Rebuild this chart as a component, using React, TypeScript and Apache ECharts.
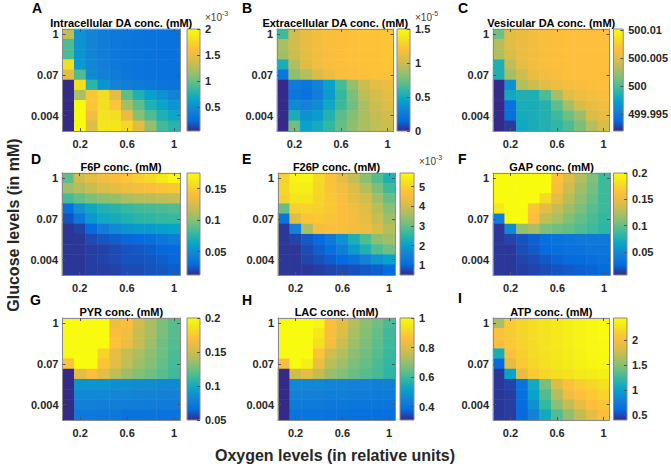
import React, { useEffect, useRef } from "react";
import * as echarts from "echarts";

// Oxygen levels (relative units) – columns, left to right
const oxygenLevels = ["0.1", "0.2", "0.3", "0.4", "0.5", "0.6", "0.7", "0.8", "0.9", "1"];
// Glucose levels (mM) – rows, top to bottom
const glucoseLevels = ["1", "0.5", "0.25", "0.13", "0.07", "0.035", "0.017", "0.008", "0.004", "0.002"];
const xTickLabels = ["0.2", "0.6", "1"];
const yTickLabels = ["1", "0.07", "0.004"];

// A: Intracellular DA (x1e-3 mM)
const intraDA = [
  [1.30, 0.55, 0.45, 0.40, 0.37, 0.35, 0.33, 0.32, 0.31, 0.30],
  [0.92, 0.55, 0.45, 0.40, 0.37, 0.34, 0.33, 0.32, 0.31, 0.30],
  [0.90, 0.55, 0.46, 0.40, 0.37, 0.34, 0.33, 0.31, 0.30, 0.30],
  [1.80, 0.58, 0.47, 0.41, 0.37, 0.34, 0.33, 0.31, 0.30, 0.30],
  [1.45, 0.93, 0.50, 0.43, 0.39, 0.36, 0.33, 0.32, 0.31, 0.30],
  [0.05, 1.80, 0.80, 0.55, 0.46, 0.41, 0.38, 0.35, 0.33, 0.32],
  [0.05, 1.22, 1.67, 1.78, 1.45, 0.97, 0.75, 0.62, 0.53, 0.46],
  [0.05, 2.00, 1.65, 1.80, 1.65, 1.20, 0.97, 0.75, 0.65, 0.56],
  [0.05, 2.00, 1.55, 1.82, 1.80, 1.50, 1.10, 0.92, 0.75, 0.66],
  [0.05, 2.00, 1.42, 1.85, 1.85, 1.75, 1.45, 1.15, 0.88, 0.78],
];
// B: Extracellular DA (x1e-5 mM)
const extraDA = [
  [0.63, 1.02, 1.10, 1.15, 1.18, 1.20, 1.21, 1.22, 1.22, 1.23],
  [0.90, 1.02, 1.10, 1.15, 1.18, 1.20, 1.21, 1.22, 1.22, 1.23],
  [0.87, 1.00, 1.08, 1.15, 1.18, 1.20, 1.21, 1.22, 1.22, 1.23],
  [0.52, 0.92, 1.06, 1.14, 1.18, 1.20, 1.21, 1.22, 1.22, 1.23],
  [0.22, 0.82, 0.93, 1.04, 1.12, 1.18, 1.20, 1.21, 1.22, 1.22],
  [0.00, 0.25, 0.22, 0.30, 0.45, 0.65, 0.85, 1.00, 1.08, 1.12],
  [0.00, 0.22, 0.20, 0.28, 0.42, 0.60, 0.78, 0.95, 1.03, 1.08],
  [0.00, 0.33, 0.30, 0.35, 0.48, 0.62, 0.75, 0.90, 1.00, 1.05],
  [0.00, 0.52, 0.37, 0.42, 0.55, 0.70, 0.80, 0.90, 0.98, 1.02],
  [0.00, 0.75, 0.45, 0.50, 0.60, 0.72, 0.82, 0.90, 0.96, 1.00],
];
// C: Vesicular DA (mM)
const vesDA = [
  [500.0010, 500.0050, 500.0055, 500.0060, 500.0063, 500.0065, 500.0066, 500.0066, 500.0066, 500.0066],
  [500.0033, 500.0050, 500.0055, 500.0060, 500.0063, 500.0065, 500.0066, 500.0066, 500.0066, 500.0066],
  [500.0032, 500.0046, 500.0055, 500.0060, 500.0063, 500.0065, 500.0066, 500.0066, 500.0066, 500.0066],
  [499.9985, 500.0037, 500.0051, 500.0060, 500.0063, 500.0065, 500.0066, 500.0066, 500.0066, 500.0066],
  [499.9985, 500.0028, 500.0042, 500.0055, 500.0060, 500.0064, 500.0066, 500.0066, 500.0066, 500.0066],
  [499.9920, 499.9965, 500.0032, 500.0042, 500.0051, 500.0058, 500.0062, 500.0064, 500.0065, 500.0066],
  [499.9920, 499.9979, 499.9985, 499.9985, 500.0001, 500.0028, 500.0050, 500.0058, 500.0062, 500.0064],
  [499.9920, 499.9943, 499.9983, 499.9983, 499.9988, 500.0006, 500.0028, 500.0046, 500.0055, 500.0060],
  [499.9920, 499.9942, 499.9981, 499.9983, 499.9987, 499.9996, 500.0010, 500.0024, 500.0046, 500.0054],
  [499.9920, 499.9925, 499.9979, 499.9983, 499.9987, 499.9992, 500.0001, 500.0014, 500.0032, 500.0046],
];
// D: F6P (mM)
const f6p = [
  [0.089, 0.122, 0.130, 0.136, 0.141, 0.145, 0.150, 0.156, 0.164, 0.172],
  [0.107, 0.113, 0.120, 0.126, 0.131, 0.135, 0.139, 0.142, 0.145, 0.147],
  [0.083, 0.091, 0.097, 0.102, 0.105, 0.110, 0.113, 0.115, 0.117, 0.118],
  [0.032, 0.054, 0.065, 0.071, 0.075, 0.078, 0.081, 0.083, 0.084, 0.086],
  [0.023, 0.037, 0.057, 0.065, 0.068, 0.071, 0.075, 0.076, 0.078, 0.079],
  [0.016, 0.019, 0.029, 0.042, 0.049, 0.054, 0.057, 0.058, 0.060, 0.062],
  [0.016, 0.016, 0.021, 0.024, 0.026, 0.028, 0.029, 0.032, 0.037, 0.041],
  [0.016, 0.016, 0.018, 0.019, 0.021, 0.023, 0.024, 0.026, 0.028, 0.029],
  [0.016, 0.016, 0.018, 0.019, 0.021, 0.023, 0.023, 0.024, 0.026, 0.028],
  [0.016, 0.016, 0.018, 0.018, 0.019, 0.021, 0.021, 0.023, 0.024, 0.026],
];
// E: F26P (x1e-3 mM)
const f26p = [
  [4.95, 5.54, 5.54, 5.10, 4.70, 4.30, 3.88, 3.36, 2.84, 2.37],
  [5.05, 5.44, 5.44, 5.05, 4.75, 4.50, 4.14, 3.72, 3.20, 2.68],
  [4.95, 5.28, 5.28, 5.00, 4.80, 4.60, 4.30, 4.04, 3.52, 3.00],
  [3.00, 4.90, 5.00, 4.95, 4.80, 4.65, 4.45, 4.20, 3.78, 3.31],
  [1.23, 4.20, 4.75, 4.80, 4.75, 4.65, 4.50, 4.30, 3.93, 3.52],
  [0.60, 1.54, 3.62, 4.55, 4.65, 4.60, 4.50, 4.40, 4.10, 3.72],
  [0.60, 0.71, 0.86, 1.02, 1.33, 1.80, 2.32, 2.84, 3.36, 3.52],
  [0.60, 0.60, 0.76, 0.92, 1.12, 1.44, 1.96, 2.37, 2.84, 3.10],
  [0.60, 0.60, 0.71, 0.81, 0.92, 1.02, 1.23, 1.54, 1.85, 2.06],
  [0.60, 0.60, 0.60, 0.66, 0.71, 0.76, 0.81, 0.86, 0.92, 1.02],
];
// F: GAP (mM)
const gap = [
  [0.200, 0.200, 0.200, 0.200, 0.200, 0.163, 0.142, 0.126, 0.109, 0.087],
  [0.200, 0.200, 0.200, 0.200, 0.200, 0.158, 0.136, 0.119, 0.105, 0.087],
  [0.200, 0.200, 0.200, 0.200, 0.178, 0.146, 0.128, 0.113, 0.101, 0.087],
  [0.186, 0.200, 0.200, 0.165, 0.146, 0.132, 0.119, 0.107, 0.095, 0.086],
  [0.041, 0.200, 0.200, 0.160, 0.132, 0.122, 0.109, 0.099, 0.091, 0.084],
  [0.010, 0.049, 0.115, 0.122, 0.107, 0.103, 0.099, 0.093, 0.087, 0.082],
  [0.010, 0.014, 0.018, 0.022, 0.029, 0.033, 0.035, 0.037, 0.037, 0.037],
  [0.010, 0.010, 0.016, 0.020, 0.025, 0.029, 0.031, 0.033, 0.035, 0.035],
  [0.010, 0.010, 0.014, 0.016, 0.020, 0.023, 0.025, 0.027, 0.029, 0.031],
  [0.010, 0.010, 0.012, 0.014, 0.016, 0.018, 0.020, 0.022, 0.023, 0.025],
];
// G: PYR (mM)
const pyr = [
  [0.200, 0.200, 0.200, 0.200, 0.163, 0.170, 0.152, 0.140, 0.128, 0.119],
  [0.200, 0.200, 0.200, 0.200, 0.168, 0.165, 0.149, 0.140, 0.128, 0.119],
  [0.200, 0.200, 0.200, 0.200, 0.172, 0.162, 0.149, 0.137, 0.125, 0.118],
  [0.200, 0.200, 0.200, 0.180, 0.161, 0.148, 0.140, 0.133, 0.124, 0.116],
  [0.172, 0.200, 0.200, 0.172, 0.158, 0.146, 0.137, 0.130, 0.122, 0.115],
  [0.050, 0.158, 0.170, 0.158, 0.145, 0.136, 0.130, 0.125, 0.119, 0.113],
  [0.050, 0.088, 0.088, 0.088, 0.086, 0.086, 0.085, 0.085, 0.083, 0.083],
  [0.050, 0.083, 0.083, 0.083, 0.082, 0.082, 0.081, 0.081, 0.080, 0.080],
  [0.050, 0.079, 0.079, 0.078, 0.078, 0.077, 0.077, 0.076, 0.076, 0.076],
  [0.050, 0.074, 0.074, 0.073, 0.073, 0.071, 0.071, 0.071, 0.071, 0.071],
];
// H: LAC (mM)
const lac = [
  [1.000, 1.000, 1.000, 0.986, 0.862, 0.807, 0.745, 0.690, 0.655, 0.614],
  [1.000, 1.000, 1.000, 0.952, 0.855, 0.793, 0.724, 0.676, 0.641, 0.600],
  [1.000, 1.000, 1.000, 0.931, 0.848, 0.772, 0.710, 0.669, 0.634, 0.600],
  [1.000, 1.000, 1.000, 0.875, 0.779, 0.738, 0.690, 0.655, 0.627, 0.593],
  [0.855, 1.000, 0.966, 0.828, 0.745, 0.710, 0.669, 0.641, 0.614, 0.586],
  [0.310, 0.779, 0.807, 0.759, 0.703, 0.676, 0.648, 0.627, 0.607, 0.579],
  [0.310, 0.462, 0.462, 0.462, 0.455, 0.455, 0.448, 0.448, 0.441, 0.441],
  [0.310, 0.448, 0.448, 0.448, 0.441, 0.441, 0.434, 0.434, 0.427, 0.427],
  [0.310, 0.427, 0.427, 0.427, 0.420, 0.420, 0.414, 0.414, 0.414, 0.407],
  [0.310, 0.407, 0.407, 0.407, 0.400, 0.400, 0.395, 0.395, 0.390, 0.390],
];
// I: ATP (mM)
const atp = [
  [1.62, 2.11, 2.17, 2.22, 2.26, 2.30, 2.34, 2.38, 2.41, 2.43],
  [2.05, 2.11, 2.17, 2.22, 2.26, 2.30, 2.34, 2.38, 2.41, 2.43],
  [2.02, 2.10, 2.16, 2.21, 2.26, 2.30, 2.34, 2.38, 2.40, 2.42],
  [1.11, 2.04, 2.14, 2.20, 2.25, 2.29, 2.33, 2.37, 2.40, 2.42],
  [0.60, 1.87, 2.10, 2.18, 2.24, 2.28, 2.32, 2.36, 2.39, 2.41],
  [0.44, 1.01, 1.89, 2.10, 2.18, 2.22, 2.26, 2.30, 2.32, 2.34],
  [0.44, 0.48, 0.67, 1.07, 1.46, 1.83, 2.05, 2.12, 2.18, 2.24],
  [0.44, 0.46, 0.64, 1.01, 1.32, 1.66, 1.93, 2.04, 2.10, 2.16],
  [0.44, 0.46, 0.62, 0.91, 1.22, 1.52, 1.73, 1.91, 2.03, 2.08],
  [0.44, 0.46, 0.60, 0.81, 1.07, 1.32, 1.54, 1.73, 1.89, 2.03],
];

// MATLAB parula colormap, sampled at 11 points
const PARULA = ["#352a87", "#046ce0", "#1481d6", "#06a3cb", "#32b8a1", "#71bf80", "#abbe62", "#dcbd46", "#fdbe3d", "#f3e021", "#f9fb0e"];
const FONT = "Liberation Sans, Arial, Helvetica, sans-serif";
const TXT = "#262626";
const BOX = "#8a8a8a";

type Panel = {
  letter: string;
  title: string;
  data: number[][];
  min: number;
  max: number;
  ticks: number[];
  exp?: string;
  heat: [number, number];
  cb: [number, number];
  top: number;
  letterPos: [number, number];
};

const ROW_TOPS = [29, 173, 318];
const H = 102;

const panels: Panel[] = [
  { letter: "A", title: "Intracellular DA conc. (mM)", data: intraDA, min: 0.05, max: 2.0, ticks: [0.5, 1, 1.5, 2], exp: "-3", heat: [62.5, 180], cb: [187, 200], top: ROW_TOPS[0], letterPos: [32, 8] },
  { letter: "B", title: "Extracellular DA conc. (mM)", data: extraDA, min: 0, max: 1.5, ticks: [0, 0.5, 1, 1.5], exp: "-5", heat: [277, 393.5], cb: [397, 410], top: ROW_TOPS[0], letterPos: [242, 8] },
  { letter: "C", title: "Vesicular DA conc. (mM)", data: vesDA, min: 499.992, max: 500.0102, ticks: [499.995, 500, 500.005, 500.01], heat: [493, 609.5], cb: [613.5, 627], top: ROW_TOPS[0], letterPos: [458, 8] },
  { letter: "D", title: "F6P conc. (mM)", data: f6p, min: 0.013, max: 0.175, ticks: [0.05, 0.1, 0.15], heat: [62, 180], cb: [187, 200], top: ROW_TOPS[1], letterPos: [31, 159] },
  { letter: "E", title: "F26P conc. (mM)", data: f26p, min: 0.5, max: 5.7, ticks: [1, 2, 3, 4, 5], exp: "-3", heat: [278, 395], cb: [400, 414], top: ROW_TOPS[1], letterPos: [242, 159] },
  { letter: "F", title: "GAP conc. (mM)", data: gap, min: 0.006, max: 0.2, ticks: [0.05, 0.1, 0.15, 0.2], heat: [493, 610], cb: [613.5, 627], top: ROW_TOPS[1], letterPos: [458, 159] },
  { letter: "G", title: "PYR conc. (mM)", data: pyr, min: 0.05, max: 0.2, ticks: [0.05, 0.1, 0.15, 0.2], heat: [62.5, 180], cb: [187, 200], top: ROW_TOPS[2], letterPos: [30, 300] },
  { letter: "H", title: "LAC conc. (mM)", data: lac, min: 0.31, max: 1.0, ticks: [0.4, 0.6, 0.8, 1], heat: [278, 395], cb: [400, 414], top: ROW_TOPS[2], letterPos: [242, 300] },
  { letter: "I", title: "ATP conc. (mM)", data: atp, min: 0.4, max: 2.44, ticks: [0.5, 1, 1.5, 2], heat: [493, 609.5], cb: [613.5, 627], top: ROW_TOPS[2], letterPos: [458, 298] },
];

function textStyle(text: string, size: number, weight: string, fill: string, align: string) {
  return {
    text, fontSize: size, fontWeight: weight, fontFamily: FONT, fill,
    textAlign: align, align, textVerticalAlign: "middle", verticalAlign: "middle",
  };
}

function buildOption() {
  const grid: any[] = [];
  const xAxis: any[] = [];
  const yAxis: any[] = [];
  const series: any[] = [];
  const visualMap: any[] = [];
  const graphic: any[] = [];

  const xShow = (idx: number) => xTickLabels.includes(oxygenLevels[idx]);
  const yShow = (idx: number) => yTickLabels.includes(glucoseLevels[idx]);

  const gradientStops = PARULA.map((c, k) => ({ offset: k / (PARULA.length - 1), color: c }));

  panels.forEach((p, i) => {
    const gHeat = grid.length;
    grid.push({ left: p.heat[0], top: p.top, width: p.heat[1] - p.heat[0], height: H, containLabel: false });
    const gCb = grid.length;
    grid.push({
      left: p.cb[0], top: p.top, width: p.cb[1] - p.cb[0], height: H, show: true,
      backgroundColor: new echarts.graphic.LinearGradient(0, 1, 0, 0, gradientStops),
      borderColor: BOX, borderWidth: 1,
    });

    const lineStyle = { color: BOX, width: 1 };
    const tickStyle = { color: "#555", width: 1 };
    const labelStyle = { fontFamily: FONT, fontWeight: "bold", fontSize: 11, color: TXT };
    const xb = xAxis.length;
    xAxis.push({
      type: "category", gridIndex: gHeat, data: oxygenLevels, position: "bottom", z: 5,
      axisLine: { show: true, onZero: false, lineStyle },
      axisTick: { show: true, inside: true, length: 3, alignWithLabel: true, interval: (idx: number) => xShow(idx), lineStyle: tickStyle },
      axisLabel: { interval: (idx: number) => xShow(idx), ...labelStyle, margin: 7 },
      splitLine: { show: false },
    });
    xAxis.push({
      type: "category", gridIndex: gHeat, data: oxygenLevels, position: "top", z: 5,
      axisLine: { show: true, onZero: false, lineStyle },
      axisTick: { show: true, inside: true, length: 3, alignWithLabel: true, interval: (idx: number) => xShow(idx), lineStyle: tickStyle },
      axisLabel: { show: false },
      splitLine: { show: false },
    });
    const yb = yAxis.length;
    yAxis.push({
      type: "category", gridIndex: gHeat, data: glucoseLevels, inverse: true, position: "left", z: 5,
      axisLine: { show: true, onZero: false, lineStyle },
      axisTick: { show: true, inside: true, length: 3, alignWithLabel: true, interval: (idx: number) => yShow(idx), lineStyle: tickStyle },
      axisLabel: { interval: (idx: number) => yShow(idx), ...labelStyle, margin: 4 },
      splitLine: { show: false },
    });
    yAxis.push({
      type: "category", gridIndex: gHeat, data: glucoseLevels, inverse: true, position: "right", z: 5,
      axisLine: { show: true, onZero: false, lineStyle },
      axisTick: { show: true, inside: true, length: 3, alignWithLabel: true, interval: (idx: number) => yShow(idx), lineStyle: tickStyle },
      axisLabel: { show: false },
      splitLine: { show: false },
    });

    const cells: number[][] = [];
    p.data.forEach((row, r) => row.forEach((v, c) => cells.push([c, r, v])));
    series.push({
      type: "heatmap", xAxisIndex: xb, yAxisIndex: yb, data: cells,
      itemStyle: { borderWidth: 0 }, emphasis: { disabled: true }, progressive: 0,
    });
    visualMap.push({
      type: "continuous", show: false, seriesIndex: i, min: p.min, max: p.max, dimension: 2,
      inRange: { color: PARULA },
    });

    // colorbar axes
    xAxis.push({ type: "category", gridIndex: gCb, data: [""], show: false });
    yAxis.push({
      type: "value", gridIndex: gCb, min: p.min, max: p.max, position: "right", z: 5,
      axisLine: { show: false },
      splitLine: { show: false },
      axisTick: { show: true, inside: true, length: 3, customValues: p.ticks, lineStyle: tickStyle },
      axisLabel: {
        customValues: p.ticks, ...labelStyle, margin: 5,
        formatter: (v: number) => String(+Number(v).toFixed(4)),
      },
    });

    graphic.push({
      type: "text", x: (p.heat[0] + p.heat[1]) / 2, y: p.top - 6,
      style: textStyle(p.title, 11, "bold", "#000", "center"),
    });
    graphic.push({
      type: "text", x: p.letterPos[0], y: p.letterPos[1],
      style: textStyle(p.letter, 14, "bold", "#000", "left"),
    });
    if (p.exp) {
      graphic.push({ type: "text", x: p.cb[1] + 5, y: p.top - 12, style: textStyle("×10", 10, "normal", "#404040", "left") });
      graphic.push({ type: "text", x: p.cb[1] + 22, y: p.top - 16, style: textStyle(p.exp, 7, "normal", "#404040", "left") });
    }
  });

  graphic.push({
    type: "text", x: 13, y: 225, rotation: Math.PI / 2,
    style: textStyle("Glucose levels (in mM)", 16, "bold", "#262626", "center"),
  });
  graphic.push({
    type: "text", x: 335, y: 455,
    style: textStyle("Oxygen levels (in relative units)", 16, "bold", "#262626", "center"),
  });

  return { animation: false, backgroundColor: "#ffffff", grid, xAxis, yAxis, series, visualMap, graphic };
}

export default function App() {
  const ref = useRef<HTMLDivElement>(null);
  useEffect(() => {
    if (!ref.current) return;
    const chart = echarts.init(ref.current, null, { renderer: "svg" });
    chart.setOption(buildOption() as any);
    return () => chart.dispose();
  }, []);
  return <div ref={ref} style={{ position: "absolute", left: 0, top: 0, width: 671, height: 469 }} />;
}
